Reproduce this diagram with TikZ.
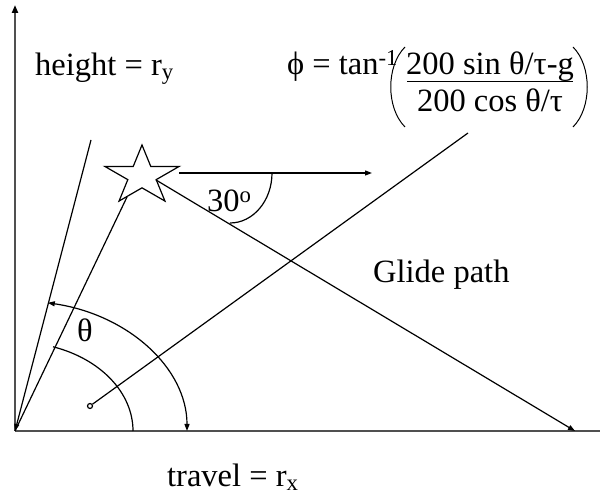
\documentclass[tikz,border=0pt]{standalone}
\usepackage{fontspec}
\setmainfont{Liberation Serif}
\usepackage{tikz}
\usetikzlibrary{shapes.geometric, arrows.meta, calc}
\definecolor{axisgray}{RGB}{80,80,80}

\tikzset{
  axis/.style={line width=2pt, axisgray},
  ray/.style={line width=1.2pt, black},
  lbl/.style={font=\fontsize{32.5}{38}\selectfont, inner sep=0pt, anchor=base west},
  tip/.style={-{Triangle[length=7pt,width=5pt]}}
}

\begin{document}
\begin{tikzpicture}[x=1pt, y=1pt]
    \useasboundingbox (0,0) rectangle (600,498);

    % Axes
    \coordinate (O) at (15,67);
    \coordinate (ytop) at (15,493);
    \coordinate (xend) at (600,67);
    \draw[axis, -{Triangle[length=8pt,width=6pt,black]}] (O) -- (ytop);
    \draw[axis] (O) -- (xend);

    % Star and the rays from it
    \node[star, star points=5, star point ratio=2.618, draw, line width=1.2pt,
          minimum size=62pt, inner sep=0pt, xscale=1.26] (star) at (142,322) {};
    \coordinate (sbl) at (127,301);
    \coordinate (sri) at (156,318);
    \coordinate (L1) at (91,358);
    \draw[ray, tip] (L1) -- (O);
    \draw[ray] (O) -- (sbl);
    \coordinate (G) at (575,67);
    \draw[ray, tip] (sri) -- (G);
    \coordinate (H1) at (179,325);
    \coordinate (H2) at (372,325);
    \draw[ray, tip] (H1) -- (H2);
    \draw[ray] (272,325) arc[start angle=0, end angle=-90, x radius=42pt, y radius=50pt];

    % Line from the small circle
    \node[circle, draw, line width=1.2pt, fill=white, minimum size=5pt, inner sep=0pt] (c) at (90,92) {};
    \coordinate (E) at (468,365);
    \draw[ray] (c) -- (E);

    % Angle arcs
    \draw[ray] (133,67) arc[start angle=0, end angle=71.2, x radius=118pt, y radius=89pt];
    \draw[ray, {Triangle[length=7pt,width=5pt]}-{Triangle[length=7pt,width=5pt]}]
        (187,67) arc[start angle=0, end angle=79, x radius=172pt, y radius=130.6pt];

    % Labels
    \node[lbl] (height) at (35,422) {height = r\textsubscript{y}};
    \node[lbl] (phi) at (287,423) {ϕ = tan\textsuperscript{-1}};
    \node[lbl, anchor=base] (num) at (490,423) {200 sin θ/τ-g};
    \node[lbl, anchor=base] (den) at (490,386) {200 cos θ/τ};
    \draw[line width=1pt] (407,416) -- (573,416);
    \draw[line width=1pt] (405,451) .. controls (386,432) and (386,390) .. (405,371);
    \draw[line width=1pt] (573,451) .. controls (592,432) and (592,390) .. (573,371);
    \node[lbl, anchor=center] (theta) at (85,168) {θ};
    \node[lbl] (ang) at (207,286) {30\textsuperscript{o}};
    \node[lbl] (glide) at (373,215) {Glide path};
    \node[lbl] (travel) at (167,11) {travel = r\textsubscript{x}};
\end{tikzpicture}
\end{document}
